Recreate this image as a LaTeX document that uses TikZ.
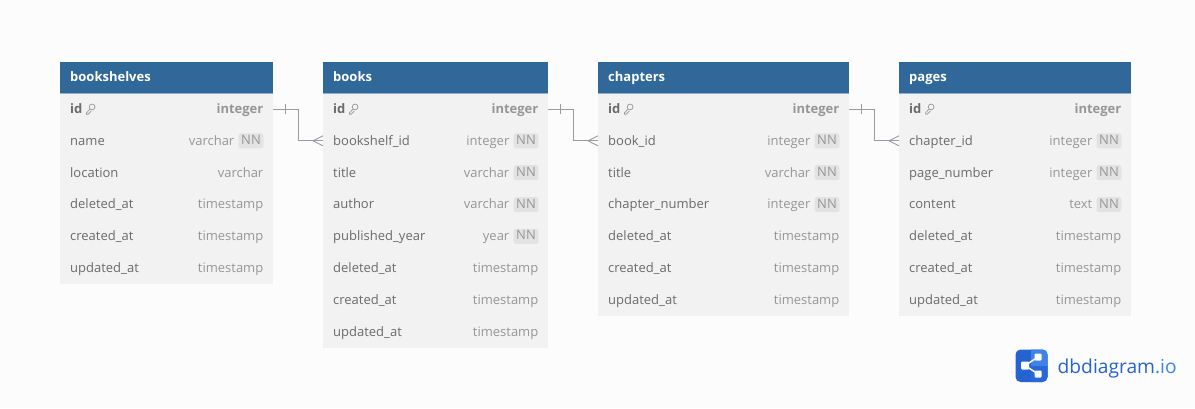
\documentclass[tikz,border=0pt]{standalone}
\usepackage{fontspec}
\setmainfont{Open Sans}
\usetikzlibrary{calc}
\definecolor{pagebg}{HTML}{FCFCFC}
\definecolor{headblue}{HTML}{30689A}
\definecolor{headline}{HTML}{8FB0CC}
\definecolor{rowbg}{HTML}{F2F2F2}
\definecolor{nametext}{HTML}{6B6B6B}
\definecolor{typetext}{HTML}{969696}
\definecolor{badgebg}{HTML}{E3E3E3}
\definecolor{linkgray}{HTML}{9A9AA2}
\definecolor{logodark}{HTML}{2563D0}
\definecolor{logolight}{HTML}{3F83E8}
\tikzset{
  cell/.style={inner sep=0pt,text height=10.4pt,text depth=1.6pt,font=\fontsize{13}{15}\selectfont},
  rowbox/.style={fill=rowbg,inner sep=0pt,outer sep=0pt,minimum height=31.9pt,anchor=north west},
  headbox/.style={fill=headblue,inner sep=0pt,outer sep=0pt,minimum height=31pt,anchor=north west},
  titletext/.style={inner sep=0pt,text height=9.5pt,text depth=2.5pt,text=white,font=\fontsize{13}{15}\selectfont\bfseries,anchor=west},
  nametxt/.style={cell,text=nametext,anchor=west},
  typetxt/.style={cell,text=typetext,anchor=east},
  badge/.style={text=typetext,fill=badgebg,rounded corners=1.5pt,inner xsep=2.5pt,inner ysep=1.5pt,
    text height=9.5pt,text depth=2.5pt,font=\fontsize{13}{15}\selectfont,anchor=east},
  link/.style={draw=linkgray,line width=0.9pt},
}
% #1 name, #2 left, #3 width, #4 rows (field/type/flag: 0 plain, 1 not null, 2 key)
\newcommand{\dbtable}[4]{
  \foreach \field/\ftype/\flag [count=\i] in {#4} {
    \node[rowbox,minimum width=#3pt] (#1-\i) at (#2,{93+(\i-1)*31.87}) {};
    \ifnum\flag=2
      \node[nametxt,font=\fontsize{13}{15}\selectfont\bfseries] (#1-\i-name) at ([xshift=10pt]#1-\i.west) {\field};
      \node[typetxt,font=\fontsize{13}{15}\selectfont\bfseries] (#1-\i-type) at ([xshift=-9.5pt]#1-\i.east) {\ftype};
      \draw[typetext,line width=0.7pt] ($(#1-\i-name.east)+(9.5,-2)$) circle (2.9pt)
        ($(#1-\i-name.east)+(7.5,0)$) -- ++(-3.5,3.8) -- ++(0,1.5) -- ++(1.5,0) -- ++(3.2,-3.3);
    \else
      \node[nametxt] (#1-\i-name) at ([xshift=10pt]#1-\i.west) {\field};
      \ifnum\flag=1
        \node[badge] (#1-\i-nn) at ([xshift=-9.5pt]#1-\i.east) {NN};
        \node[typetxt] (#1-\i-type) at ([xshift=-4pt]#1-\i-nn.west) {\ftype};
      \else
        \node[typetxt] (#1-\i-type) at ([xshift=-9.5pt]#1-\i.east) {\ftype};
      \fi
    \fi
  }
  \node[headbox,minimum width=#3pt] (#1-head) at (#2,62) {};
  \draw[headline,line width=0.8pt] (#1-head.south west) -- (#1-head.south east);
  \node[titletext] (#1-title) at ([xshift=10pt]#1-head.west) {#1};
}
% one to many, from row #1 to row #2
\newcommand{\onetomany}[2]{
  \coordinate (#1-out) at ($(#1.east)+(12,0)$);
  \coordinate (#2-in) at ($(#2.west)+(-10,0)$);
  \draw[link] (#1.east) -- ++(25,0) |- (#2.west);
  \draw[link] (#1-out)+(0,-5) -- +(0,5);
  \draw[link] (#2-in) -- ($(#2.west)+(0,-5)$) (#2-in) -- ($(#2.west)+(0,5)$);
}
\begin{document}
\begin{tikzpicture}[x=1pt,y=-1pt]
\useasboundingbox (0,0) rectangle (1195,408);
\fill[pagebg] (0,0) rectangle (1195,408);
\dbtable{bookshelves}{60}{213}{id/integer/2,name/varchar/1,location/varchar/0,deleted\_at/timestamp/0,created\_at/timestamp/0,updated\_at/timestamp/0}
\dbtable{books}{323}{225}{id/integer/2,bookshelf\_id/integer/1,title/varchar/1,author/varchar/1,published\_year/year/1,deleted\_at/timestamp/0,created\_at/timestamp/0,updated\_at/timestamp/0}
\dbtable{chapters}{598}{251}{id/integer/2,book\_id/integer/1,title/varchar/1,chapter\_number/integer/1,deleted\_at/timestamp/0,created\_at/timestamp/0,updated\_at/timestamp/0}
\dbtable{pages}{899}{232}{id/integer/2,chapter\_id/integer/1,page\_number/integer/1,content/text/1,deleted\_at/timestamp/0,created\_at/timestamp/0,updated\_at/timestamp/0}
\onetomany{bookshelves-1}{books-2}
\onetomany{books-1}{chapters-2}
\onetomany{chapters-1}{pages-2}
% logo
\begin{scope}
\clip[rounded corners=5pt] (1015.5,349.5) rectangle (1047.5,382);
\fill[logodark] (1015,349) rectangle (1048,383);
\fill[logolight] (1031,349) rectangle (1048,365.5);
\fill[logodark!80!logolight] (1031,365.5) rectangle (1048,383);
\end{scope}
\coordinate (logoleft) at (1025,365.5);
\coordinate (logotop) at (1038,357);
\coordinate (logobottom) at (1038,374);
\draw[white,line width=1.5pt] (logotop) -- (logoleft) -- (logobottom);
\fill[white,rounded corners=1pt] (1021,361.5) rectangle (1029,369.5);
\fill[white,rounded corners=1pt] (1034.5,353.5) rectangle (1041.5,360.5);
\fill[white,rounded corners=1pt] (1034.5,370.5) rectangle (1041.5,377.5);
\node[inner sep=0pt,anchor=base west,font=\fontsize{19.2}{24}\selectfont,text=logodark] (logotext) at (1057.5,373) {dbdiagram\textcolor{logolight}{.io}};
\end{tikzpicture}
\end{document}
